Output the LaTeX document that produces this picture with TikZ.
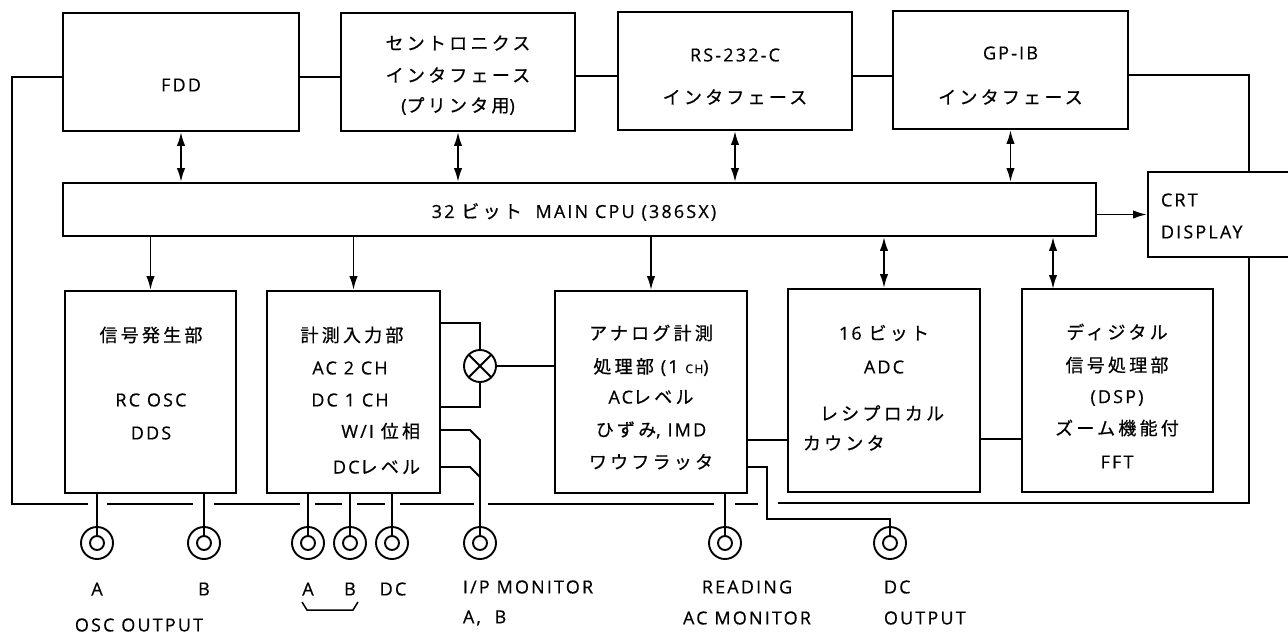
\documentclass[tikz,border=0pt]{standalone}
\usepackage{fontspec}
\setmainfont{Open Sans}[LetterSpace=12,FakeBold=0.5]
\newfontfamily\jpfont{Noto Sans CJK JP}[LetterSpace=18,FakeBold=0.6]
\newcommand\J[1]{{\jpfont #1}}
\usetikzlibrary{arrows.meta,calc}
\begin{document}
\begin{tikzpicture}[x=1pt,y=-1pt,line width=1.9pt,
  font=\fontsize{18}{22}\selectfont,
  box/.style={draw,rectangle,inner sep=0pt},
  txt/.style={inner sep=0pt},
  sgl/.style={-{Latex[length=14pt,width=8.5pt]}},
  dbl/.style={{Latex[length=14pt,width=8.5pt]}-{Latex[length=14pt,width=8.5pt]}},
  conn/.style={circle,draw,minimum size=32pt,inner sep=0pt,
    path picture={\draw (path picture bounding box.center) circle (7pt);}},
  mult/.style={circle,draw,minimum size=32pt,inner sep=0pt,
    path picture={\draw (path picture bounding box.south west) -- (path picture bounding box.north east)
      (path picture bounding box.north west) -- (path picture bounding box.south east);}}]
\path[use as bounding box,clip] (0,0) rectangle (1288,634);

% top row
\node[box,minimum width=236pt,minimum height=118pt] (fdd) at (181,72) {};
\node[box,minimum width=234pt,minimum height=118pt] (cen) at (458,72) {};
\node[box,minimum width=234pt,minimum height=118pt] (rs) at (735,71) {};
\node[box,minimum width=235pt,minimum height=118pt] (gp) at (1010.5,70) {};
\node[txt] at (181,85) {FDD};
\node[txt] at (458,43) {\J{セントロニクス}};
\node[txt] at (458,75) {\J{インタフェース}};
\node[txt] at (458,106) {(\J{プリンタ用})};
\node[txt] at (735,55) {RS-232-C};
\node[txt] at (735,97) {\J{インタフェース}};
\node[txt] at (1010.5,53) {GP-IB};
\node[txt] at (1010.5,97) {\J{インタフェース}};

% CPU and CRT
\node[box,minimum width=1033pt,minimum height=53pt] (cpu) at (579.5,209.5) {};
\node[txt] at (574,212) {32 \J{ビット}\ \ MAIN CPU (386SX)};
\node[box,minimum width=162pt,minimum height=85pt] (crt) at (1229,214.5) {};
\node[txt,anchor=west] at (1160,200) {CRT};
\node[txt,anchor=west] at (1160,232) {DISPLAY};

% bottom row
\node[box,minimum width=171pt,minimum height=202pt] (sig) at (150.5,392) {};
\node[box,minimum width=173pt,minimum height=202pt] (inp) at (353.5,392) {};
\node[box,minimum width=192pt,minimum height=202pt] (ana) at (651,392) {};
\node[box,minimum width=192pt,minimum height=203pt] (adc) at (884,390.5) {};
\node[box,minimum width=191pt,minimum height=203pt] (dsp) at (1117.5,390.5) {};

\node[txt] at (151,335) {\J{信号発生部}};
\node[txt] at (151,400) {RC OSC};
\node[txt] at (151,433) {DDS};

\node[txt] at (352,335) {\J{計測入力部}};
\node[txt] at (350,368) {AC 2 CH};
\node[txt] at (350,400) {DC 1 CH};
\node[txt,anchor=east] at (421,431) {W/I \J{位相}};
\node[txt,anchor=east] at (421,467) {DC\J{レベル}};

\node[txt] at (651,333) {\J{アナログ計測}};
\node[txt] at (651,367) {\J{処理部} (1 {\fontsize{12}{12}\selectfont CH})};
\node[txt] at (651,397) {AC\J{レベル}};
\node[txt] at (651,430) {\J{ひずみ}, IMD};
\node[txt] at (651,462) {\J{ワウフラッタ}};

\node[txt] at (884,333) {16 \J{ビット}};
\node[txt] at (884,367) {ADC};
\node[txt,anchor=west] at (819,413) {\J{レシプロカル}};
\node[txt,anchor=west] at (802,443) {\J{カウンタ}};

\node[txt] at (1117,332) {\J{ディジタル}};
\node[txt] at (1117,365) {\J{信号処理部}};
\node[txt] at (1117,398) {(DSP)};
\node[txt] at (1117,428) {\J{ズーム機能付}};
\node[txt] at (1117,462) {FFT};

% arrows top <-> CPU
\foreach \n in {fdd,cen,rs,gp}
  \draw[dbl] (\n.south) -- (\n.south |- cpu.north);
% CPU -> bottom
\draw[sgl] (cpu.south -| sig.north) -- (sig.north);
\draw[sgl] (cpu.south -| inp.north) -- (inp.north);
\draw[sgl] (cpu.south -| ana.north) -- (ana.north);
\draw[dbl] (cpu.south -| adc.north) -- (adc.north);
\coordinate (dspin) at (1053,289);
\draw[dbl] (cpu.south -| dspin) -- (dspin);
\draw[sgl] (cpu.east |- crt.west) -- (crt.west);

% top bus
\draw ([yshift=-5pt]fdd.east) -- ([yshift=-5pt]fdd.east -| cen.west);
\draw ([yshift=-4pt]cen.east) -- ([yshift=-4pt]cen.east -| rs.west);
\draw ([yshift=-5pt]rs.east) -- ([yshift=-5pt]rs.east -| gp.west);

% outer loop
\coordinate (LT) at (12,77);
\coordinate (LB) at (12,504);
\coordinate (RT) at (1249,75);
\coordinate (RB) at (1249,503);
\draw (fdd.west |- LT) -- (LT) -- (LB) -- (88,504);
\draw ([yshift=-5pt]gp.east) -- (RT) -- (RT |- crt.north);
\draw (RT |- crt.south) -- (RB) -- (778,503);
\foreach \a/\b in {107/193,214/300,315/342,357/385,400/474,488/714,735/758}
  \draw (\a,504) -- (\b,504);

% connectors
\node[conn] (oa) at (97,543) {};
\node[conn] (ob) at (204,543) {};
\node[conn] (ia) at (308,543) {};
\node[conn] (ib) at (350,543) {};
\node[conn] (idc) at (392,543) {};
\node[conn] (ipm) at (480,543) {};
\node[conn] (rd) at (725,543) {};
\node[conn] (dco) at (890,543) {};

\draw (sig.south -| oa) -- ([yshift=7pt]oa.center);
\draw (sig.south -| ob) -- ([yshift=7pt]ob.center);
\draw (inp.south -| ia) -- ([yshift=7pt]ia.center);
\draw (inp.south -| ib) -- ([yshift=7pt]ib.center);
\draw (inp.south -| idc) -- ([yshift=7pt]idc.center);
\draw (ana.south -| rd) -- ([yshift=7pt]rd.center);

% multiplier
\node[mult] (mul) at (480,366) {};
\draw (inp.east |- 0,323) -- (480,323) -- (mul.north);
\draw (inp.east |- 0,407) -- (480,407) -- (mul.south);
\draw (mul.east) -- (mul.east -| ana.west);

% W/I and DC level to I/P monitor
\draw (inp.east |- 0,430) -- (470,430) -- (480,440) -- ([yshift=7pt]ipm.center);
\draw (inp.east |- 0,467) -- (470,467) -- (480,477);

% analog -> ADC -> DSP
\draw (ana.east |- 0,440) -- (adc.west |- 0,440);
\draw (adc.east |- 0,439) -- (dsp.west |- 0,439);

% analog -> DC output
\draw (ana.east |- 0,467) -- (767,467) -- (767,519) -- (dco.north |- 0,519) -- ([yshift=7pt]dco.center);

% labels
\node[txt] at (97,589) {A};
\node[txt] at (204,589) {B};
\node[txt] at (139,625) {OSC OUTPUT};
\node[txt] at (308,589) {A};
\node[txt] at (350,589) {B};
\node[txt] at (393,589) {DC};
\draw[line width=1.5pt] (302,602) -- (307,610) -- (353,610) -- (358,602);
\node[txt,anchor=west] at (462,587) {I/P MONITOR};
\node[txt,anchor=west] at (462,618) {A,\ \ B};
\node[txt] at (747,587) {READING};
\node[txt] at (747,618) {AC MONITOR};
\node[txt,anchor=west] at (883,587) {DC};
\node[txt,anchor=west] at (883,618) {OUTPUT};
\end{tikzpicture}
\end{document}
